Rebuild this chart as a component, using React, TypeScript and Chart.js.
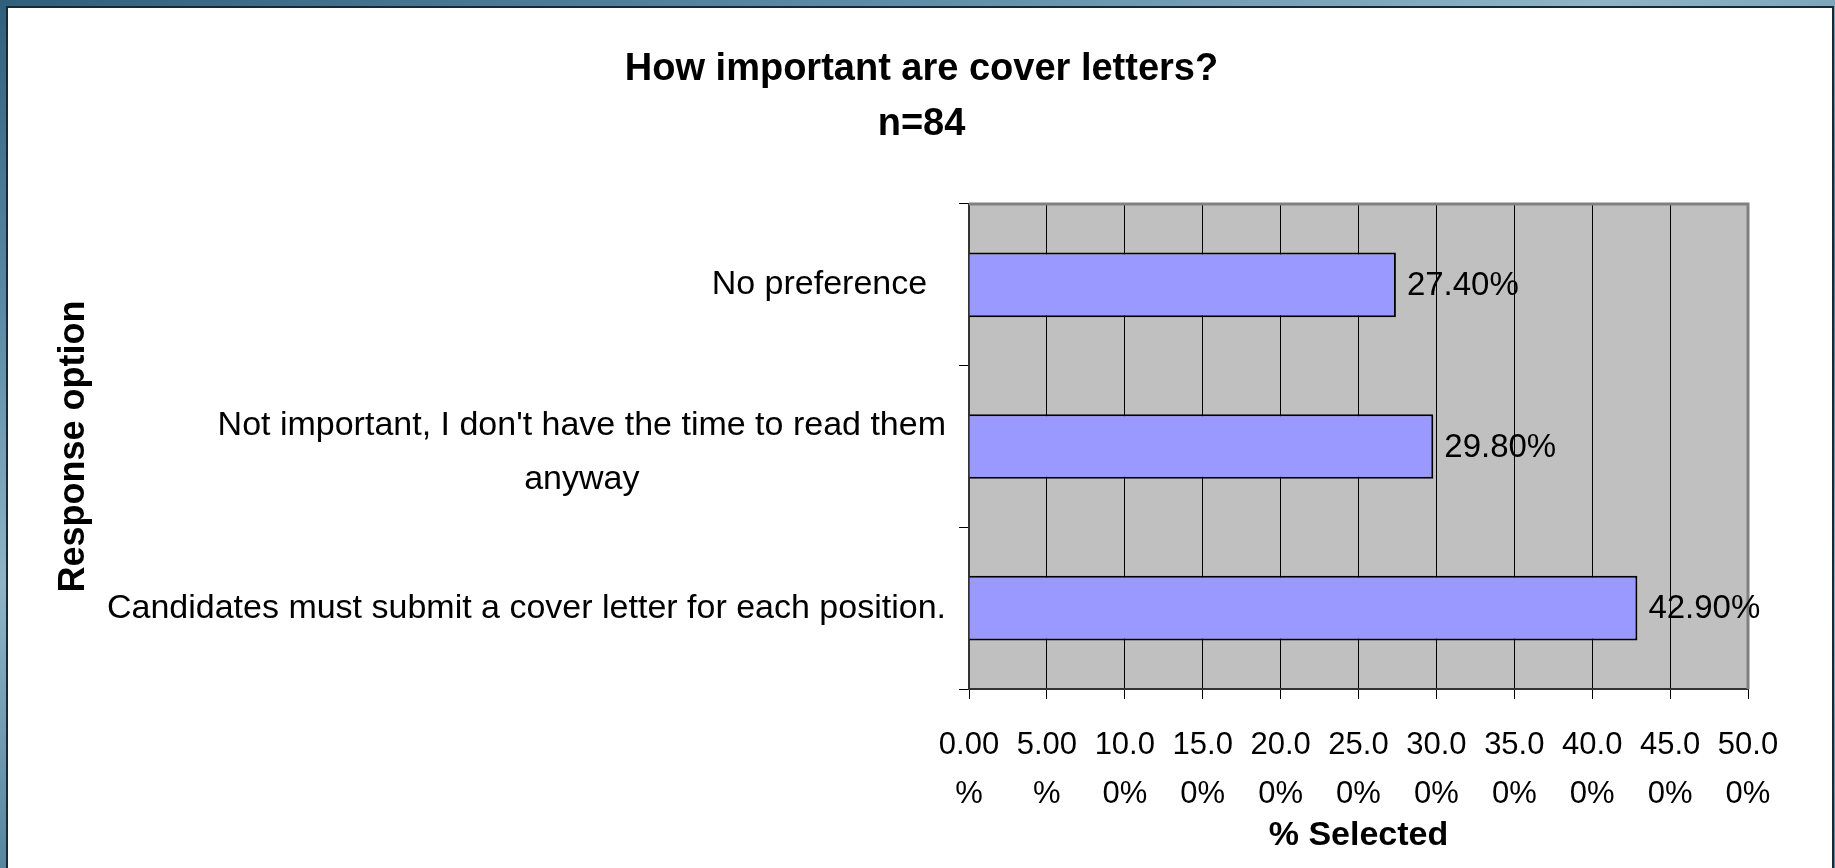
import React, { useEffect, useRef } from "react";
import { Chart, registerables } from "chart.js";

Chart.register(...registerables);

const FONT = "'Liberation Sans', Arial, Helvetica, sans-serif";

const chartTitle = ["How important are cover letters?", "n=84"];
const categoryLines: string[][] = [
  ["No preference  "],
  ["Not important, I don't have the time to read them", "anyway"],
  ["Candidates must submit a cover letter for each position."],
];
const percentSelected = [27.4, 29.8, 42.9];
const valueLabels = ["27.40%", "29.80%", "42.90%"];
const xTickLabels: string[][] = [
  ["0.00", "%"],
  ["5.00", "%"],
  ["10.0", "0%"],
  ["15.0", "0%"],
  ["20.0", "0%"],
  ["25.0", "0%"],
  ["30.0", "0%"],
  ["35.0", "0%"],
  ["40.0", "0%"],
  ["45.0", "0%"],
  ["50.0", "0%"],
];
const xAxisTitle = "% Selected";
const yAxisTitle = "Response option";
const X_MIN = 0;
const X_MAX = 50;
const X_STEP = 5;

const decor = {
  id: "decor",
  beforeDraw(chart: any) {
    const { ctx, chartArea: a } = chart;
    ctx.save();
    ctx.fillStyle = "#C0C0C0";
    ctx.fillRect(a.left, a.top, a.right - a.left, a.bottom - a.top);
    ctx.restore();
  },
  afterDatasetsDraw(chart: any) {
    const { ctx, chartArea: a } = chart;
    ctx.save();
    ctx.strokeStyle = "#808080";
    ctx.lineWidth = 3;
    ctx.beginPath();
    ctx.moveTo(a.left, a.top);
    ctx.lineTo(a.right, a.top);
    ctx.lineTo(a.right, a.bottom);
    ctx.stroke();

    ctx.fillStyle = "#000";
    ctx.font = `33px ${FONT}`;
    ctx.textBaseline = "middle";
    ctx.textAlign = "left";
    chart.getDatasetMeta(0).data.forEach((bar: any, i: number) => {
      ctx.fillText(valueLabels[i], bar.x + 11, bar.y + 1);
    });

    const ys = chart.scales.y;
    ctx.font = `34px ${FONT}`;
    ctx.textAlign = "center";
    categoryLines.forEach((lines, i) => {
      const yc = ys.getPixelForValue(i) + (lines.length > 1 ? 6 : 0);
      const w = Math.max(...lines.map((l) => ctx.measureText(l).width));
      const cx = a.left - 23 - w / 2;
      const lh = 54;
      lines.forEach((l, j) => {
        ctx.fillText(l, cx, yc + (j - (lines.length - 1) / 2) * lh);
      });
    });
    ctx.restore();
  },
};

export default function App() {
  const ref = useRef<HTMLCanvasElement>(null);
  useEffect(() => {
    Chart.defaults.font.family = FONT;
    Chart.defaults.color = "#000";
    const chart = new Chart(ref.current as HTMLCanvasElement, {
      type: "bar",
      data: {
        labels: categoryLines.map((l) => l.join(" ").trim()),
        datasets: [
          {
            data: percentSelected,
            backgroundColor: "#9999FF",
            borderColor: "#000",
            borderWidth: 2,
            categoryPercentage: 1,
            barPercentage: 0.4,
          },
        ],
      },
      options: {
        indexAxis: "y",
        responsive: false,
        maintainAspectRatio: false,
        animation: false,
        devicePixelRatio: 1,
        layout: { padding: { left: 8, right: 0, top: 0, bottom: 0 } },
        plugins: {
          legend: { display: false },
          tooltip: { enabled: false },
          title: {
            display: true,
            text: chartTitle,
            color: "#000",
            font: { size: 38, weight: "bold", family: FONT, lineHeight: 55 / 38 },
            padding: { top: 42.5, bottom: 51.5 },
          },
        },
        scales: {
          x: {
            type: "linear",
            position: "bottom",
            min: X_MIN,
            max: X_MAX,
            ticks: {
              stepSize: X_STEP,
              autoSkip: false,
              maxRotation: 0,
              color: "#000",
              padding: 22,
              font: { size: 31, family: FONT, lineHeight: 49 / 31 },
              callback: (_v: any, i: number) => xTickLabels[i],
            },
            grid: {
              color: "#000",
              lineWidth: 1,
              drawOnChartArea: true,
              drawTicks: true,
              tickLength: 10,
            },
            border: { display: true, color: "#333", width: 2 },
            title: {
              display: true,
              text: xAxisTitle,
              color: "#000",
              font: { size: 34, weight: "bold", family: FONT, lineHeight: 1.2 },
              padding: { top: 0, bottom: 11.6 },
            },
            afterFit: (s: any) => {
              s.height = 179;
              s.paddingLeft = 0;
              s.paddingRight = 87;
            },
          },
          y: {
            type: "category",
            position: "left",
            offset: true,
            ticks: { display: false },
            grid: {
              display: true,
              offset: true,
              drawOnChartArea: false,
              drawTicks: true,
              tickLength: 10,
              color: "#000",
            },
            border: { display: true, color: "#333", width: 2 },
            title: {
              display: true,
              text: yAxisTitle,
              color: "#000",
              font: { size: 36, weight: "bold", family: FONT, lineHeight: 1.2 },
              padding: { top: 44.4, bottom: 0 },
            },
            afterFit: (s: any) => {
              s.width = 961;
              s.paddingTop = 0;
              s.paddingBottom = 0;
            },
          },
        },
      } as any,
      plugins: [decor],
    });
    return () => chart.destroy();
  }, []);

  return (
    <div
      style={{
        position: "fixed",
        left: 0,
        top: 0,
        width: 1835,
        height: 868,
        overflow: "hidden",
        background:
          "linear-gradient(160deg, #2f5f7a 0%, #5f8ea8 22%, #8fb4c6 38%, #4d7d98 60%, #8ab2c6 82%, #5d8ca5 100%)",
      }}
    >
      <div
        style={{
          position: "absolute",
          left: 6,
          top: 6,
          width: 1824,
          height: 900,
          background: "#fff",
          border: "2px solid #1c2830",
        }}
      />
      <canvas
        ref={ref}
        width={1835}
        height={868}
        style={{ position: "absolute", left: 0, top: 0, width: 1835, height: 868 }}
      />
    </div>
  );
}
